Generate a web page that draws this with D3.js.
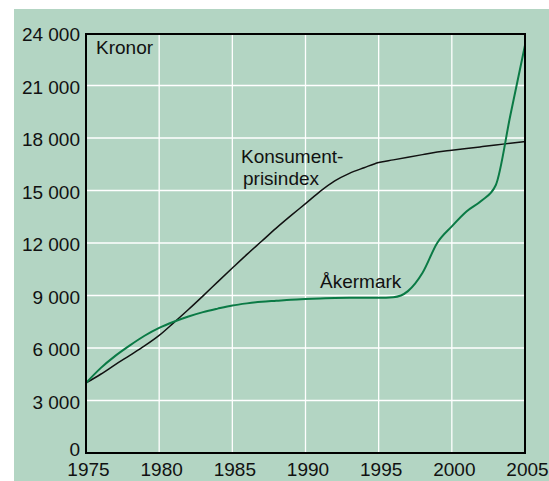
<!DOCTYPE html>
<html>
<head>
<meta charset="utf-8">
<script src="https://cdn.jsdelivr.net/npm/d3@7"></script>
<style>
  body { margin: 0; background: #fff; }
  svg text { font-family: "Liberation Sans", Arial, sans-serif; fill: #111; }
</style>
</head>
<body>
<script>
const years = d3.range(1975, 2006)
// Konsumentprisindex (kronor)
const kpi = [4000, 4500, 5050, 5580, 6120, 6720, 7450, 8200, 8980, 9780,
  10570, 11350, 12100, 12850, 13560, 14250, 14950, 15550, 15980, 16300,
  16600, 16750, 16900, 17050, 17200, 17300, 17400, 17500, 17600, 17700, 17800]
// Åkermark (kronor)
const akermark = [4000, 4850, 5550, 6150, 6700, 7150, 7500, 7800, 8050, 8250,
  8430, 8550, 8640, 8700, 8760, 8800, 8830, 8860, 8870, 8870,
  8870, 8900, 9250, 10300, 12000, 12950, 13800, 14400, 15300, 19300, 23300]
const yTicks = d3.range(0, 24001, 3000)
const xTicks = [1975, 1980, 1985, 1990, 1995, 2000, 2005]

const width = 549
const height = 481
const plotLeft = 86, plotRight = 525, plotTop = 34, plotBottom = 453

const svg = d3.select('body').append('svg')
  .attr('width', width)
  .attr('height', height)

// background panel
svg.append('rect')
  .attr('x', 14).attr('y', 9)
  .attr('width', width - 14).attr('height', height - 9)
  .attr('fill', '#b3d5c3')

const x = d3.scaleLinear().domain([1975, 2005]).range([plotLeft, plotRight])
const y = d3.scaleLinear().domain([0, 24000]).range([plotBottom, plotTop - 1])

const fmt = d3.formatLocale({ decimal: ',', thousands: ' ', grouping: [3], currency: ['', ' kr'] }).format(',')

// grid
svg.append('g')
  .selectAll('line')
  .data(yTicks.slice(1, -1))
  .enter()
  .append('line')
  .attr('x1', plotLeft).attr('x2', plotRight)
  .attr('y1', (d) => y(d)).attr('y2', (d) => y(d))
  .attr('stroke', '#fff').attr('stroke-width', 1.3)

svg.append('g')
  .selectAll('line')
  .data(xTicks.slice(1, -1))
  .enter()
  .append('line')
  .attr('x1', (d) => x(d)).attr('x2', (d) => x(d))
  .attr('y1', plotTop).attr('y2', plotBottom)
  .attr('stroke', '#fff').attr('stroke-width', 1.3)

// lines
const line = (vals) => d3.line()
  .x((d, i) => x(years[i]))
  .y((d) => y(d))
  .curve(d3.curveMonotoneX)(vals)

svg.append('path')
  .attr('d', line(kpi))
  .attr('fill', 'none')
  .attr('stroke', '#111')
  .attr('stroke-width', 1.5)

svg.append('path')
  .attr('d', line(akermark))
  .attr('fill', 'none')
  .attr('stroke', '#0a7a45')
  .attr('stroke-width', 2)

// frame
svg.append('rect')
  .attr('x', plotLeft).attr('y', plotTop)
  .attr('width', plotRight - plotLeft).attr('height', plotBottom - plotTop)
  .attr('fill', 'none')
  .attr('stroke', '#000')
  .attr('stroke-width', 2)

// axes labels
const yAxis = svg.append('g')
  .attr('transform', `translate(${plotLeft},0)`)
  .call(d3.axisLeft(y).tickValues(yTicks).tickFormat(fmt).tickSize(0).tickPadding(6))
yAxis.select('.domain').remove()
yAxis.selectAll('text')
  .attr('font-size', 19)
  .attr('font-family', '"Liberation Sans", Arial, sans-serif')
  .attr('fill', '#111')
  .attr('dy', (d) => (d === 0 ? '0.15em' : '0.42em'))

const xAxis = svg.append('g')
  .attr('transform', `translate(0,${plotBottom})`)
  .call(d3.axisBottom(x).tickValues(xTicks).tickFormat(d3.format('d')).tickSize(0))
xAxis.select('.domain').remove()
xAxis.selectAll('text')
  .attr('font-size', 19)
  .attr('font-family', '"Liberation Sans", Arial, sans-serif')
  .attr('fill', '#111')
  .attr('x', 2)
  .attr('y', 23)
  .attr('dy', 0)

// annotations
const note = (txt, px, py) => svg.append('text')
  .attr('x', px).attr('y', py)
  .attr('font-size', 19)
  .text(txt)

note('Kronor', 96, 54)
note('Konsument-', 241, 163)
note('prisindex', 243, 185)
note('Åkermark', 320, 288)
</script>
</body>
</html>
